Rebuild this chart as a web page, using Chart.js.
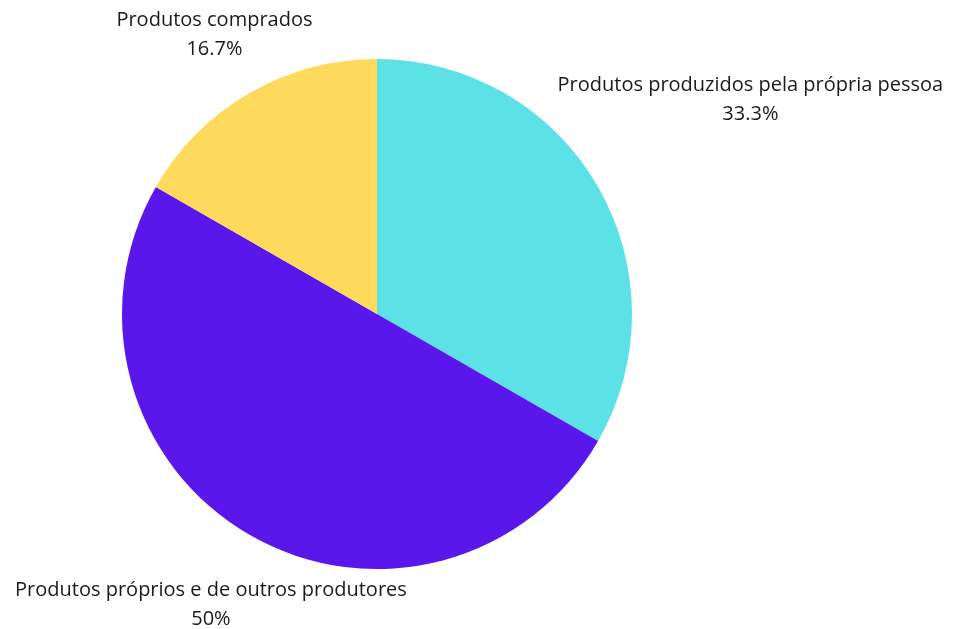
<!DOCTYPE html>
<html>
<head>
<meta charset="utf-8">
<script src="https://cdn.jsdelivr.net/npm/chart.js@4/dist/chart.umd.min.js"></script>
<style>
  html, body { margin: 0; padding: 0; background: #fff; }
  #wrap { width: 953px; height: 629px; }
</style>
</head>
<body>
<div id="wrap"><canvas id="myChart"></canvas></div>
<script>
const labels = ["Produtos produzidos pela própria pessoa", "Produtos próprios e de outros produtores", "Produtos comprados"];
const values = [33.3, 50, 16.7];
const percentText = ["33.3%", "50%", "16.7%"];
const colors = ["#5ce1e6", "#5a17eb", "#fdda5b"];

// labels outside the pie, pushed out along each slice's middle angle
const outsideLabels = {
  id: "outsideLabels",
  afterDraw(chart) {
    const ctx = chart.ctx;
    const meta = chart.getDatasetMeta(0);
    ctx.save();
    ctx.font = "20px 'Open Sans'";
    ctx.fillStyle = "#1a1a1a";
    ctx.textAlign = "center";
    ctx.textBaseline = "middle";
    const lineH = 29;
    meta.data.forEach((arc, i) => {
      const p = arc.getProps(["x", "y", "startAngle", "endAngle", "outerRadius"], true);
      const mid = (p.startAngle + p.endAngle) / 2;
      const dx = Math.cos(mid), dy = Math.sin(mid);
      const hw = Math.max(ctx.measureText(labels[i]).width, ctx.measureText(percentText[i]).width) / 2;
      const hh = lineH;
      const target = p.outerRadius + 5;
      // find distance so the nearest box point sits just outside the pie
      let lo = 0, hi = 1000;
      for (let k = 0; k < 40; k++) {
        const t = (lo + hi) / 2;
        const cx = dx * t, cy = dy * t;
        const nx = Math.max(Math.abs(cx) - hw, 0), ny = Math.max(Math.abs(cy) - hh, 0);
        if (Math.hypot(nx, ny) < target) lo = t; else hi = t;
      }
      const bx = p.x + dx * hi, by = p.y + dy * hi + 2;
      ctx.fillText(labels[i], bx, by - lineH / 2);
      ctx.fillText(percentText[i], bx, by + lineH / 2);
    });
    ctx.restore();
  }
};

const ctx = document.getElementById("myChart").getContext("2d");
const myChart = new Chart(ctx, {
  type: "pie",
  data: {
    labels: labels,
    datasets: [{
      data: values,
      backgroundColor: colors,
      borderWidth: 0
    }]
  },
  options: {
    responsive: true,
    maintainAspectRatio: false,
    animation: false,
    layout: { padding: { top: 59, bottom: 60, left: 122, right: 321 } },
    plugins: {
      legend: { display: false },
      tooltip: { enabled: false }
    }
  },
  plugins: [outsideLabels]
});
</script>
</body>
</html>
